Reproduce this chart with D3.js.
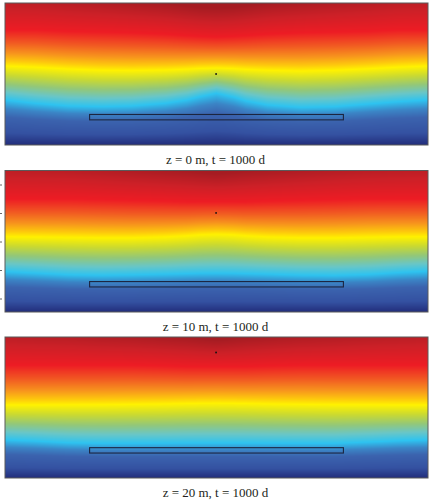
<!DOCTYPE html>
<html>
<head>
<meta charset="utf-8">
<script src="https://cdn.jsdelivr.net/npm/d3@7"></script>
<style>
  html, body { margin: 0; padding: 0; background: #ffffff; }
  svg { display: block; }
</style>
</head>
<body>
<div id="chart"></div>
<script>
// captions of the three snapshots
const captions = ["z = 0 m, t = 1000 d", "z = 10 m, t = 1000 d", "z = 20 m, t = 1000 d"];

// colour map, from the hot top (0) to the cold bottom (1)
const mapStops = [0, 0.1, 0.2, 0.3, 0.38, 0.44, 0.48, 0.55, 0.62, 0.68, 0.74, 0.79, 0.84, 0.93, 1];
const mapColors = ["#a51c22", "#cc2027", "#ed1c24", "#f15a22", "#f7941d", "#fdc80d", "#fff200",
                   "#c9d932", "#92c77a", "#6ac6c6", "#2ec3f0", "#3b85c6", "#3b63ae", "#3451a1", "#222d7b"];

// level of each traced isoline on the colour map
const levels = [0, 0.2, 0.48, 0.74, 1];

// depth of each isoline (share of panel height), sampled across the panel
const sampleX = [0, 0.07, 0.15, 0.23, 0.3, 0.38, 0.43, 0.46, 0.5, 0.54, 0.57, 0.62, 0.7, 0.78, 0.86, 0.93, 1];

const darkZ0   = [-0.09, -0.08, -0.06, -0.04, -0.02, 0.0, 0.02, 0.03, 0.035, 0.03, 0.02, 0.0, -0.02, -0.04, -0.06, -0.08, -0.09];
const redZ0    = [0.19, 0.19, 0.2, 0.205, 0.21, 0.22, 0.23, 0.235, 0.24, 0.235, 0.23, 0.22, 0.21, 0.205, 0.2, 0.19, 0.19];
const yellowZ0 = [0.444, 0.452, 0.465, 0.474, 0.476, 0.472, 0.466, 0.461, 0.458, 0.462, 0.468, 0.474, 0.479, 0.474, 0.463, 0.452, 0.444];
const cyanZ0   = [0.683, 0.706, 0.725, 0.73, 0.725, 0.706, 0.683, 0.66, 0.636, 0.662, 0.69, 0.718, 0.735, 0.73, 0.711, 0.695, 0.683];

const darkZ10   = [-0.09, -0.08, -0.07, -0.05, -0.03, -0.01, 0.0, 0.01, 0.02, 0.01, 0.0, -0.01, -0.03, -0.05, -0.07, -0.08, -0.09];
const redZ10    = [0.2, 0.2, 0.2, 0.205, 0.21, 0.215, 0.22, 0.22, 0.22, 0.22, 0.22, 0.215, 0.21, 0.205, 0.2, 0.2, 0.2];
const yellowZ10 = [0.468, 0.47, 0.473, 0.476, 0.476, 0.47, 0.462, 0.455, 0.451, 0.455, 0.462, 0.47, 0.476, 0.476, 0.472, 0.469, 0.468];
const cyanZ10   = [0.715, 0.725, 0.737, 0.741, 0.738, 0.733, 0.729, 0.727, 0.726, 0.727, 0.729, 0.733, 0.74, 0.742, 0.735, 0.722, 0.712];

const darkZ20   = [-0.08, -0.07, -0.06, -0.04, -0.03, -0.01, 0.0, 0.01, 0.02, 0.01, 0.0, -0.01, -0.03, -0.04, -0.06, -0.07, -0.08];
const redZ20    = [0.2, 0.2, 0.2, 0.2, 0.2, 0.205, 0.21, 0.21, 0.21, 0.21, 0.21, 0.205, 0.2, 0.2, 0.2, 0.2, 0.2];
const yellowZ20 = [0.482, 0.482, 0.481, 0.48, 0.478, 0.475, 0.472, 0.471, 0.47, 0.471, 0.472, 0.475, 0.478, 0.48, 0.481, 0.482, 0.482];
const cyanZ20   = [0.73, 0.738, 0.75, 0.754, 0.754, 0.753, 0.752, 0.752, 0.752, 0.752, 0.752, 0.753, 0.754, 0.754, 0.745, 0.736, 0.73];

const bottomZ = sampleX.map(() => 1);

const panels = [
  { caption: captions[0], lines: [darkZ0, redZ0, yellowZ0, cyanZ0, bottomZ], top: 3, h: 142, dot: 0.5 },
  { caption: captions[1], lines: [darkZ10, redZ10, yellowZ10, cyanZ10, bottomZ], top: 170.5, h: 141.5, dot: 0.3 },
  { caption: captions[2], lines: [darkZ20, redZ20, yellowZ20, cyanZ20, bottomZ], top: 337, h: 141, dot: 0.11 }
];

// buried structure (share of panel width / height)
const blockX = [0.2, 0.8];
const blockZ = [0.785, 0.823];

const width = 431, height = 500;
const left = 5, panelW = 423;

const svg = d3.select("#chart").append("svg")
  .attr("width", width)
  .attr("height", height);

const color = d3.scaleLinear()
  .domain(mapStops)
  .range(mapColors)
  .interpolate(d3.interpolateRgb)
  .clamp(true);

panels.forEach((p, i) => {
  const w = panelW, h = Math.round(p.h);
  const x = d3.scaleLinear().domain([0, 1]).range([left, left + panelW]);
  const y = d3.scaleLinear().domain([0, 1]).range([p.top, p.top + p.h]);

  // each isoline across the panel
  const curves = p.lines.map(arr => d3.scaleLinear().domain(sampleX).range(arr));

  const canvas = document.createElement("canvas");
  canvas.width = w;
  canvas.height = h;
  const ctx = canvas.getContext("2d");
  const img = ctx.createImageData(w, h);

  for (let c = 0; c < w; c++) {
    const t = (c + 0.5) / w;
    const depths = curves.map(f => f(t));
    const level = d3.scaleLinear().domain(depths).range(levels).clamp(true);
    for (let r = 0; r < h; r++) {
      const z = (r + 0.5) / h;
      const rgb = d3.rgb(color(level(z)));
      const k = (r * w + c) * 4;
      img.data[k] = rgb.r;
      img.data[k + 1] = rgb.g;
      img.data[k + 2] = rgb.b;
      img.data[k + 3] = 255;
    }
  }
  ctx.putImageData(img, 0, 0);

  const g = svg.append("g");

  g.append("image")
    .attr("x", x(0))
    .attr("y", y(0))
    .attr("width", panelW)
    .attr("height", p.h)
    .attr("preserveAspectRatio", "none")
    .attr("href", canvas.toDataURL());

  g.append("rect")
    .attr("x", x(0))
    .attr("y", y(0))
    .attr("width", panelW)
    .attr("height", p.h)
    .attr("fill", "none")
    .attr("stroke", "#5a5a5a")
    .attr("stroke-width", 1);

  g.append("rect")
    .attr("x", x(blockX[0]))
    .attr("y", y(blockZ[0]))
    .attr("width", x(blockX[1]) - x(blockX[0]))
    .attr("height", y(blockZ[1]) - y(blockZ[0]))
    .attr("fill", "none")
    .attr("stroke", "#1c2540")
    .attr("stroke-width", 1.1);

  g.append("circle")
    .attr("cx", x(0.499))
    .attr("cy", y(p.dot))
    .attr("r", 0.9)
    .attr("fill", "#111111");

  svg.append("text")
    .attr("x", width / 2)
    .attr("y", y(1) + 19)
    .attr("text-anchor", "middle")
    .attr("font-family", "'Liberation Serif', 'DejaVu Serif', serif")
    .attr("font-size", 13)
    .attr("fill", "#231f20")
    .text(p.caption);
});

// stray axis ticks left of the middle panel
const tickScale = d3.scalePoint().domain([0, 1, 2, 3, 4]).range([184.5, 298.5]);
svg.append("g")
  .attr("transform", "translate(2,0)")
  .call(d3.axisLeft(tickScale).tickSize(2).tickFormat(""))
  .call(a => a.select(".domain").remove())
  .selectAll("line").attr("stroke", "#666666");
</script>
</body>
</html>
